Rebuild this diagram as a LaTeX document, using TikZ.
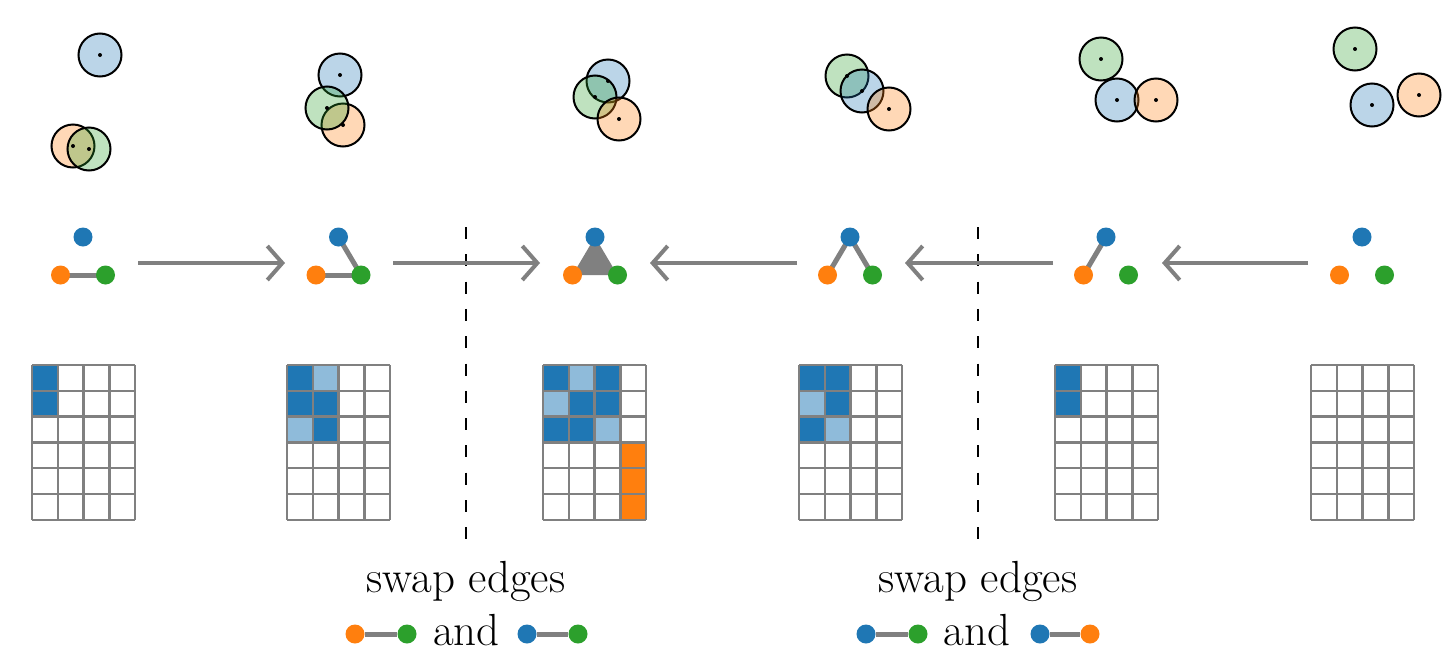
\documentclass[tikz,border=0pt]{standalone}
\usetikzlibrary{arrows.meta}
\definecolor{tblue}{HTML}{1F77B4}
\definecolor{tlblue}{HTML}{8FBBDA}
\definecolor{torange}{HTML}{FF7F0E}
\definecolor{tgreen}{HTML}{2CA02C}
\definecolor{egray}{HTML}{808080}
\newcommand{\gcell}[4]{\fill[#4] (#1+#2*25.8,365+#3*25.8) rectangle ++(25.8,25.8);}
\newcommand{\glines}[1]{%
  \foreach \i in {0,...,4} \draw[gridline] (#1+\i*25.8,365) -- ++(0,154.8);
  \foreach \j in {0,...,6} \draw[gridline] (#1,365+\j*25.8) -- ++(103.2,0);}
\begin{document}
\begin{tikzpicture}[x=1pt,y=-1pt,
  vtx/.style={circle,inner sep=0pt,minimum size=19pt},
  bv/.style={vtx,fill=tblue},
  ov/.style={vtx,fill=torange},
  gv/.style={vtx,fill=tgreen},
  gedge/.style={draw=egray,line width=5pt},
  flow/.style={draw=egray,line width=4pt,-{Straight Barb[length=15pt,width=34pt]}},
  gridline/.style={draw=egray,line width=2.5pt,line cap=square},
  sepline/.style={draw=black,line width=2pt,dash pattern=on 12pt off 15.3pt},
  region/.style={circle,draw=black,line width=2pt,minimum size=43pt,inner sep=0pt,fill opacity=0.3},
  ctr/.style={circle,fill=black,inner sep=0pt,minimum size=4pt},
  lbl/.style={inner sep=0pt,font=\fontsize{45}{54}\selectfont}]
\useasboundingbox (0,0) rectangle (1456,651);
\fill[white] (0,0) rectangle (1456,651);

% ---------- top: regions ----------
\foreach \n/\x/\y/\c in {
  b1/100/55/tblue, o1/73/146/torange, g1/89/149/tgreen,
  b2/340/75/tblue, o2/343/125/torange, g2/327/108/tgreen,
  b3/608/81/tblue, g3/595/97/tgreen, o3/619/119/torange,
  g4/847/76/tgreen, b4/862/91/tblue, o4/889/109/torange,
  g5/1101/59/tgreen, b5/1117/100/tblue, o5/1156/100/torange,
  g6/1355/49/tgreen, b6/1372/105/tblue, o6/1419/95/torange}
  \node[region,fill=\c] (r\n) at (\x,\y) {};
\foreach \n/\x/\y in {
  b1/100/55, o1/73/146, g1/89/149, b2/340/75, o2/343/125, g2/327/108,
  b3/608/81, g3/595/97, o3/619/119, g4/847/76, b4/862/91, o4/889/109,
  g5/1101/59, b5/1117/100, o5/1156/100, g6/1355/49, b6/1372/105, o6/1419/95}
  \node[ctr] (c\n) at (\x,\y) {};

% ---------- middle: graphs ----------
\foreach \k/\cx in {1/83,2/338.5,3/595,4/850,5/1106,6/1362}{
  \coordinate (pb\k) at (\cx,237);
  \coordinate (po\k) at (\cx-22.5,275);
  \coordinate (pg\k) at (\cx+22.5,275);
}
\fill[egray] (pb3) -- (po3) -- (pg3) -- cycle;
\draw[gedge] (po1) -- (pg1);
\draw[gedge] (po2) -- (pg2);
\draw[gedge] (pb2) -- (pg2);
\draw[gedge] (pb4) -- (po4);
\draw[gedge] (pb4) -- (pg4);
\draw[gedge] (pb5) -- (po5);
\foreach \k in {1,...,6}{
  \node[bv] (vb\k) at (pb\k) {};
  \node[ov] (vo\k) at (po\k) {};
  \node[gv] (vg\k) at (pg\k) {};
}

% separators
\coordinate (s1t) at (466,227); \coordinate (s1b) at (466,541);
\coordinate (s2t) at (978,227); \coordinate (s2b) at (978,541);
\draw[sepline] (s1t) -- (s1b);
\draw[sepline] (s2t) -- (s2b);

% arrows
\coordinate (a1s) at (138,263); \coordinate (a1e) at (285,263);
\coordinate (a2s) at (393,263); \coordinate (a2e) at (540,263);
\coordinate (a3s) at (797,263); \coordinate (a3e) at (650,263);
\coordinate (a4s) at (1053,263); \coordinate (a4e) at (905,263);
\coordinate (a5s) at (1308,263); \coordinate (a5e) at (1162,263);
\foreach \k in {1,...,5} \draw[flow] (a\k s) -- (a\k e);

% ---------- bottom: grids ----------
% grid 1
\gcell{32}{0}{0}{tblue} \gcell{32}{0}{1}{tblue}
% grid 2
\gcell{287}{0}{0}{tblue} \gcell{287}{1}{0}{tlblue}
\gcell{287}{0}{1}{tblue} \gcell{287}{1}{1}{tblue}
\gcell{287}{0}{2}{tlblue} \gcell{287}{1}{2}{tblue}
% grid 3
\gcell{543}{0}{0}{tblue} \gcell{543}{1}{0}{tlblue} \gcell{543}{2}{0}{tblue}
\gcell{543}{0}{1}{tlblue} \gcell{543}{1}{1}{tblue} \gcell{543}{2}{1}{tblue}
\gcell{543}{0}{2}{tblue} \gcell{543}{1}{2}{tblue} \gcell{543}{2}{2}{tlblue}
\gcell{543}{3}{3}{torange} \gcell{543}{3}{4}{torange} \gcell{543}{3}{5}{torange}
% grid 4
\gcell{799}{0}{0}{tblue} \gcell{799}{1}{0}{tblue}
\gcell{799}{0}{1}{tlblue} \gcell{799}{1}{1}{tblue}
\gcell{799}{0}{2}{tblue} \gcell{799}{1}{2}{tlblue}
% grid 5
\gcell{1055}{0}{0}{tblue} \gcell{1055}{0}{1}{tblue}
\foreach \gx in {32,287,543,799,1055,1311} {\glines{\gx}}

% ---------- labels ----------
\node[lbl,anchor=base] (t1) at (466,592) {swap edges};
\node[lbl,anchor=base] (and1) at (466.5,645) {and};
\node[ov] (l1a) at (355,634) {};
\node[gv] (l1b) at (407,634) {};
\node[bv] (l1c) at (527,634) {};
\node[gv] (l1d) at (578,634) {};
\draw[gedge] (l1a) -- (l1b);
\draw[gedge] (l1c) -- (l1d);

\node[lbl,anchor=base] (t2) at (978,592) {swap edges};
\node[lbl,anchor=base] (and2) at (977,645) {and};
\node[bv] (l2a) at (866,634) {};
\node[gv] (l2b) at (918,634) {};
\node[bv] (l2c) at (1040,634) {};
\node[ov] (l2d) at (1090,634) {};
\draw[gedge] (l2a) -- (l2b);
\draw[gedge] (l2c) -- (l2d);
\end{tikzpicture}
\end{document}
